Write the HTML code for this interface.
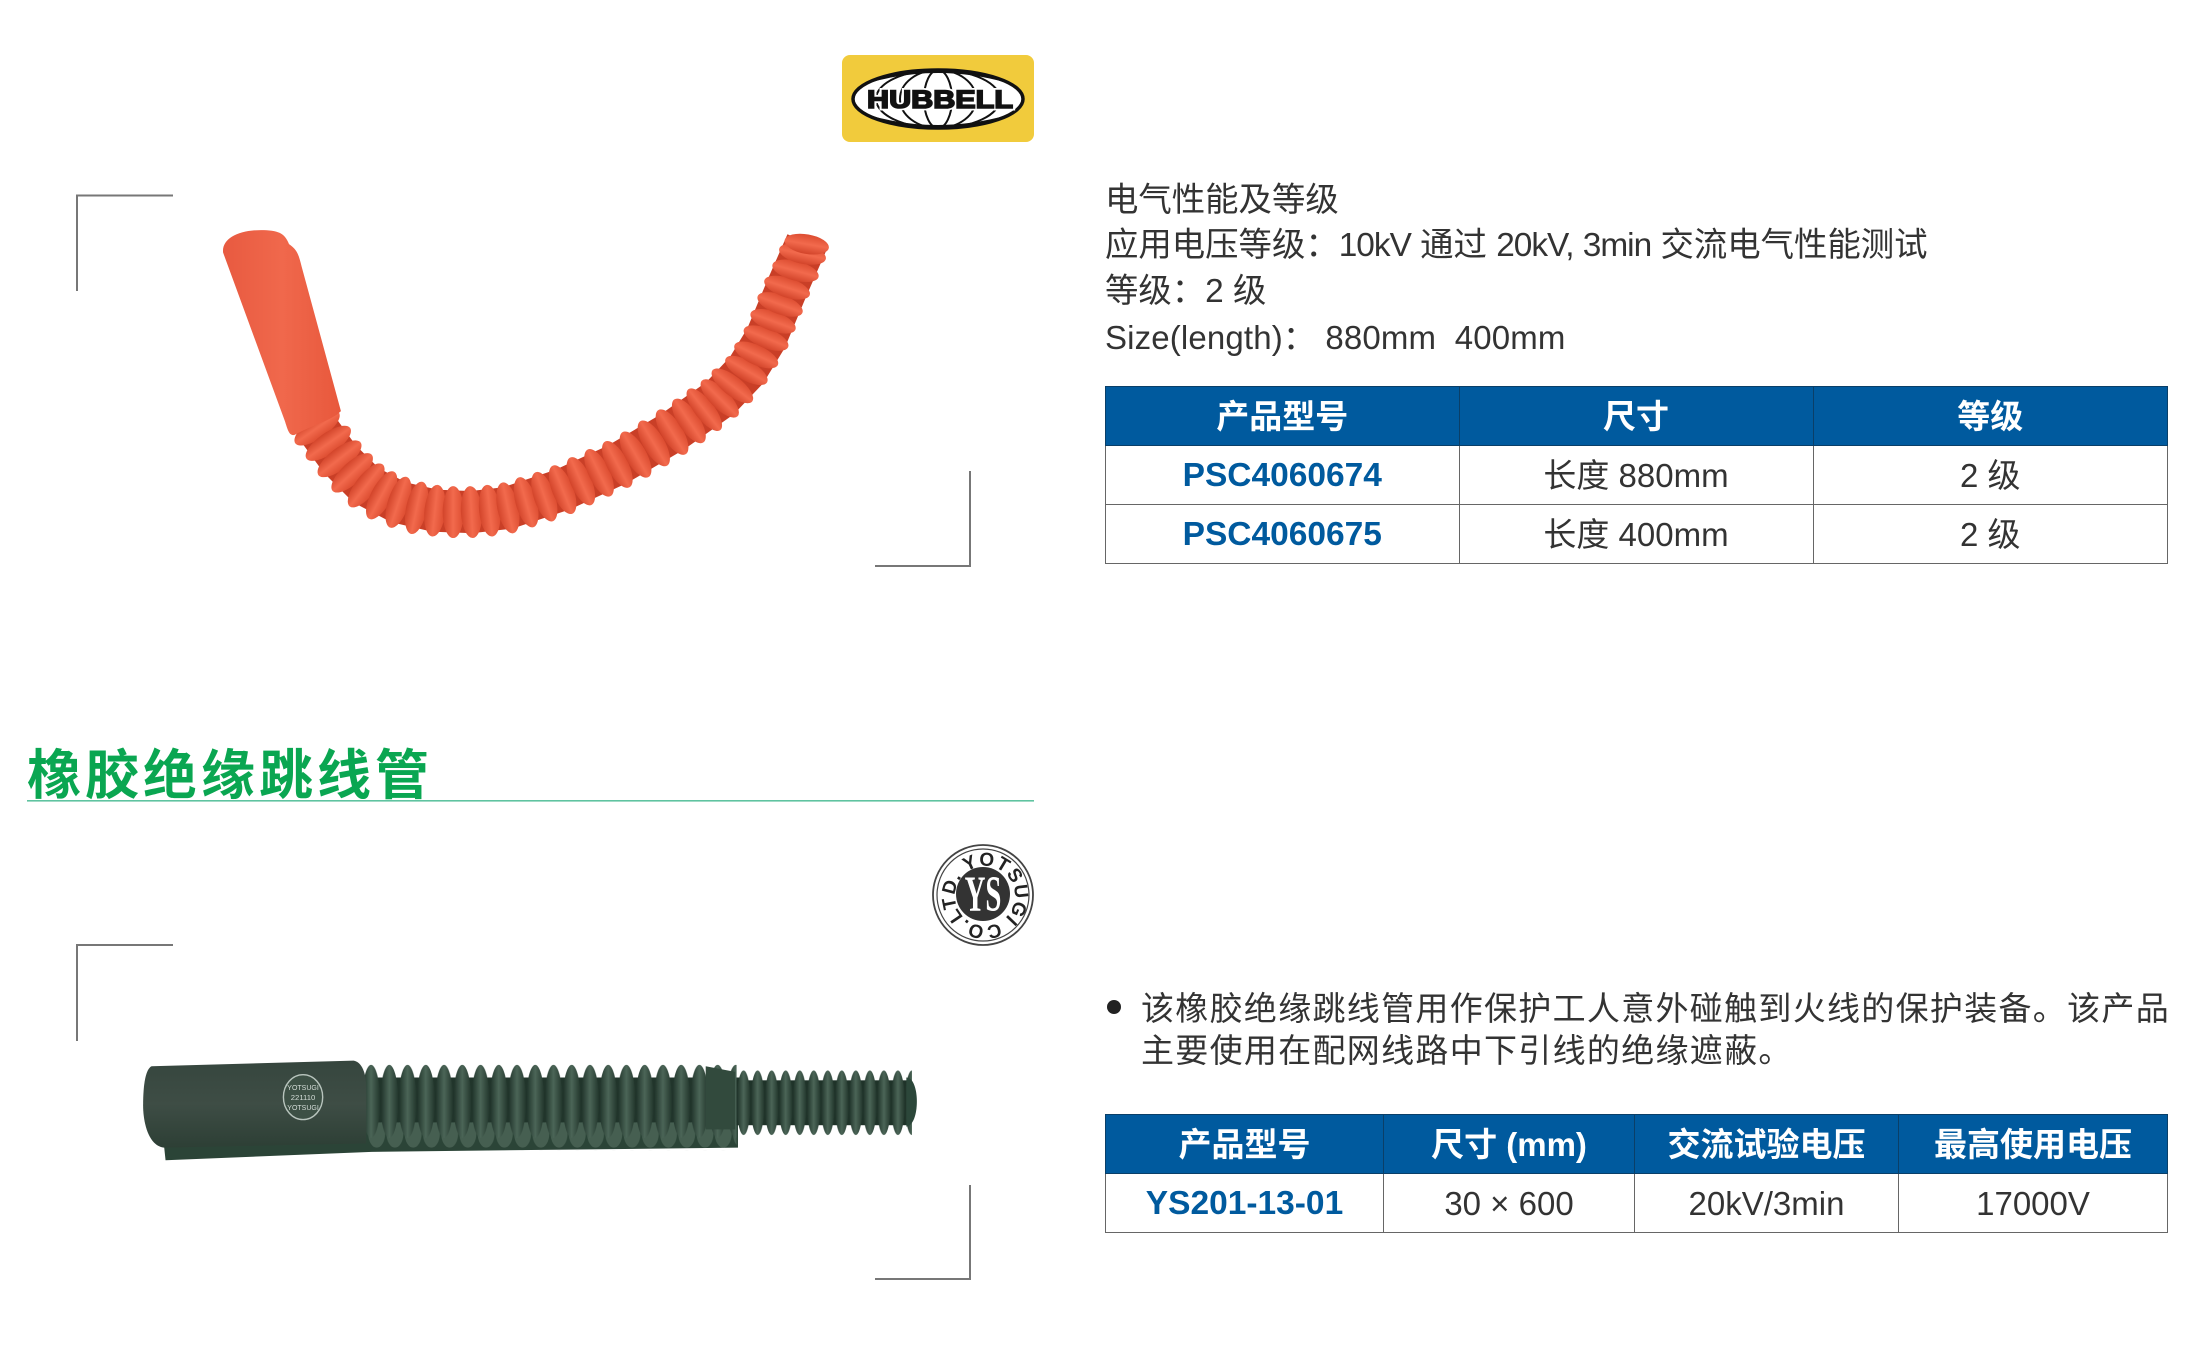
<!DOCTYPE html>
<html><head><meta charset="utf-8"><style>
html,body{margin:0;padding:0;background:#fff}
body{width:2200px;height:1349px;position:relative;overflow:hidden;font-family:"Liberation Sans","Noto Sans CJK SC",sans-serif;color:#333}
.a{position:absolute;white-space:nowrap}
.t{left:1105px;font-size:33.4px;line-height:44px;height:44px}
.t i{font-style:normal;letter-spacing:-1px}
table{position:absolute;left:1105px;width:1062px;border-collapse:collapse;table-layout:fixed;font-size:33px}
td,th{padding:0;text-align:center;border:1.5px solid #666}
td{height:57px;padding-top:1px;line-height:56px}
th{background:#005a9e;color:#fff;font-weight:bold;font-size:33px;border-color:#0a3f68;height:56px;padding-top:2px;line-height:56px}
td.m{color:#005a9e;font-weight:bold;font-size:33.5px}
</style></head><body>
<svg class="a" style="left:0;top:0" width="2200" height="1349" viewBox="0 0 2200 1349">
<defs>
<linearGradient id="og"><stop offset="0" stop-color="#d2442a"/><stop offset=".5" stop-color="#f26a4d"/><stop offset="1" stop-color="#dc4c30"/></linearGradient>
<linearGradient id="cp"><stop offset="0" stop-color="#e85a40"/><stop offset=".5" stop-color="#f0684c"/><stop offset="1" stop-color="#e8583c"/></linearGradient>
<linearGradient id="gg"><stop offset="0" stop-color="#1d3027"/><stop offset=".5" stop-color="#4b6557"/><stop offset="1" stop-color="#22362c"/></linearGradient>
<linearGradient id="cg" x1="0" y1="0" x2="0" y2="1"><stop offset="0" stop-color="#36463e"/><stop offset=".5" stop-color="#3e4d45"/><stop offset="1" stop-color="#2d3f35"/></linearGradient>
<pattern id="r1" patternUnits="userSpaceOnUse" x="258" y="758" width="13" height="54"><ellipse cx="6.5" cy="27" rx="6.4" ry="26" fill="url(#gg)"/></pattern>
<pattern id="r2" patternUnits="userSpaceOnUse" x="525" y="762" width="10" height="48"><ellipse cx="5" cy="24" rx="4.9" ry="23" fill="url(#gg)"/></pattern>
<pattern id="r3" patternUnits="userSpaceOnUse" x="262" y="798" width="13" height="22"><ellipse cx="6.5" cy="10" rx="6" ry="10" fill="#465f51"/></pattern>
<path id="c" d="M963.7 917A30 30 0 1 1 963.8 917.1"/>
</defs>
<g fill="none" stroke="#777" stroke-width="2">
<path d="M173 195.5H77V291"/><path d="M875 566H970V471"/>
<path d="M173 945H77V1041"/><path d="M875 1279H970V1185"/>
</g>
<g transform="scale(1.403)">
<polyline points="226,305 242,327 261,346 284,358 310,364 336,365 362,362 401,349 440,331 479,308 513,284 532,264 546,241 561,205 575,173" fill="none" stroke="#c93f27" stroke-width="30" stroke-linejoin="round"/>
<g fill="url(#og)">
<ellipse cx="226" cy="305" rx="7.5" ry="19" transform="rotate(55 226 305)"/>
<ellipse cx="234" cy="316" rx="7.5" ry="19" transform="rotate(55 234 316)"/>
<ellipse cx="242" cy="327" rx="7.5" ry="19" transform="rotate(52 242 327)"/>
<ellipse cx="251" cy="337" rx="7.5" ry="19" transform="rotate(47 251 337)"/>
<ellipse cx="261" cy="346" rx="7.5" ry="19" transform="rotate(38 261 346)"/>
<ellipse cx="272" cy="353" rx="7.5" ry="19" transform="rotate(28 272 353)"/>
<ellipse cx="284" cy="358" rx="7.5" ry="19" transform="rotate(18 284 358)"/>
<ellipse cx="297" cy="362" rx="7.5" ry="19" transform="rotate(12 297 362)"/>
<ellipse cx="310" cy="364" rx="7.5" ry="18.5" transform="rotate(6 310 364)"/>
<ellipse cx="323" cy="365" rx="7.5" ry="18.5"/>
<ellipse cx="336" cy="365" rx="7.5" ry="18.5" transform="rotate(-3 336 365)"/>
<ellipse cx="349" cy="364" rx="7.5" ry="18.5" transform="rotate(-6 349 364)"/>
<ellipse cx="362" cy="362" rx="7.5" ry="18.5" transform="rotate(-12 362 362)"/>
<ellipse cx="375" cy="358" rx="7.5" ry="18.5" transform="rotate(-16 375 358)"/>
<ellipse cx="388" cy="354" rx="7.5" ry="18.5" transform="rotate(-19 388 354)"/>
<ellipse cx="401" cy="349" rx="7.5" ry="18.5" transform="rotate(-22 401 349)"/>
<ellipse cx="414" cy="343" rx="7.5" ry="18.5" transform="rotate(-24 414 343)"/>
<ellipse cx="427" cy="337" rx="7.5" ry="18.5" transform="rotate(-26 427 337)"/>
<ellipse cx="440" cy="331" rx="7.5" ry="18.5" transform="rotate(-28 440 331)"/>
<ellipse cx="453" cy="324" rx="7.5" ry="18.5" transform="rotate(-30 453 324)"/>
<ellipse cx="466" cy="316" rx="7.5" ry="18.5" transform="rotate(-31 466 316)"/>
<ellipse cx="479" cy="308" rx="7.5" ry="18.5" transform="rotate(-32 479 308)"/>
<ellipse cx="491" cy="300" rx="7.5" ry="18.5" transform="rotate(-34 491 300)"/>
<ellipse cx="502" cy="292" rx="7" ry="18.5" transform="rotate(-38 502 292)"/>
<ellipse cx="513" cy="284" rx="7" ry="18" transform="rotate(-45 513 284)"/>
<ellipse cx="522" cy="275" rx="7" ry="18" transform="rotate(-52 522 275)"/>
<ellipse cx="532" cy="264" rx="7" ry="17" transform="rotate(-60 532 264)"/>
<ellipse cx="539" cy="253" rx="7" ry="17" transform="rotate(-65 539 253)"/>
<ellipse cx="546" cy="241" rx="7" ry="17" transform="rotate(-68 546 241)"/>
<ellipse cx="551" cy="229" rx="7" ry="17" transform="rotate(-70 551 229)"/>
<ellipse cx="556" cy="217" rx="7" ry="17" transform="rotate(-70 556 217)"/>
<ellipse cx="561" cy="205" rx="7" ry="17" transform="rotate(-72 561 205)"/>
<ellipse cx="567" cy="193" rx="7" ry="17" transform="rotate(-75 567 193)"/>
<ellipse cx="572" cy="181" rx="7" ry="17" transform="rotate(-78 572 181)"/>
<ellipse cx="575" cy="174" rx="7" ry="16" transform="rotate(-80 575 174)"/>
</g>
<path d="M159 180C158 170 170 164 186 164C198 164 203 166 206 174C212 178 213 182 215 190L243 293C236 300 222 303 210 310C206 311 205 306 203 300Z" fill="url(#cp)"/>
<!-- green tube -->
<path d="M116 808L118 827L265 821L526 818V800H116Z" fill="#2b4437"/>
<rect x="262" y="798" width="263" height="22" fill="url(#r3)"/>
<rect x="258" y="768" width="270" height="32" fill="#21352b"/>
<rect x="258" y="758" width="267" height="54" fill="url(#r1)"/>
<rect x="525" y="770" width="122" height="32" fill="#1f3329"/>
<rect x="525" y="762" width="125" height="48" fill="url(#r2)"/>
<path d="M646 768C656 768 656 802 646 803Z" fill="#2c473a"/>
<path d="M503 760L524 764V805H503Z" fill="#324a3d"/>
<path d="M108 760L252 756C258 757 261 765 261 775V815L118 818C106 818 102 800 102 788C102 772 104 762 108 760Z" fill="url(#cg)"/>
<ellipse cx="216" cy="782" rx="14" ry="16" fill="#3d5045" stroke="#b8c4bd" stroke-width="1"/>
<text x="216" y="777" font-size="5" fill="#d5ddd8" text-anchor="middle">YOTSUGI</text>
<text x="216" y="784" font-size="5.5" fill="#d5ddd8" text-anchor="middle">221110</text>
<text x="216" y="791" font-size="5" fill="#d5ddd8" text-anchor="middle">YOTSUGI</text>
</g>
<!-- hubbell logo -->
<rect x="842" y="55" width="192" height="87" rx="8" fill="#f1cb3c"/>
<ellipse cx="938" cy="99" rx="85" ry="29" fill="#fff" stroke="#111" stroke-width="3.5"/>
<g fill="none" stroke="#111" stroke-width="2">
<ellipse cx="938" cy="99" rx="14" ry="29"/><ellipse cx="938" cy="99" rx="38" ry="29"/><ellipse cx="938" cy="99" rx="62" ry="29"/><path d="M868 82Q938 62 1008 82M868 116Q938 136 1008 116"/>
</g>
<text x="940" y="108" text-anchor="middle" font-family="Liberation Sans" font-weight="bold" font-size="25" textLength="146" lengthAdjust="spacingAndGlyphs" fill="#111" stroke="#fff" stroke-width="5" paint-order="stroke">HUBBELL</text>
<text x="940" y="108" text-anchor="middle" font-family="Liberation Sans" font-weight="bold" font-size="25" textLength="146" lengthAdjust="spacingAndGlyphs" fill="#111" stroke="#111" stroke-width="1.6">HUBBELL</text>
<!-- yotsugi logo -->
<circle cx="983" cy="895" r="50" fill="#fff" stroke="#444" stroke-width="1.8"/>
<circle cx="983" cy="895" r="46" fill="none" stroke="#444" stroke-width="1.2"/>
<circle cx="983" cy="894" r="27" fill="#333"/>
<text font-family="Liberation Sans" font-weight="bold" font-size="19" letter-spacing="1" fill="#222"><textPath href="#c">LTD. YOTSUGI CO.</textPath></text>
<text transform="translate(983 911) scale(.8 1.4)" text-anchor="middle" font-family="Liberation Serif" font-weight="bold" font-size="36" fill="#fff">YS</text>
<rect x="27" y="800" width="1007" height="1.6" fill="#5fc3a0"/>
</svg>

<div class="a" style="left:27px;top:733px;font-size:54px;line-height:76px;font-weight:bold;color:#0aa651;letter-spacing:4px;font-family:'Noto Sans CJK SC','Liberation Sans',sans-serif">橡胶绝缘跳线管</div>

<div class="a t" style="top:179px">电气性能及等级</div>
<div class="a t" style="top:224px">应用电压等级：<i>10kV</i> 通过 <i>20kV,</i> <i>3min</i> 交流电气性能测试</div>
<div class="a t" style="top:270px">等级：2 级</div>
<div class="a t" style="top:316px;font-size:33px;letter-spacing:.15px">Size(length)：&nbsp;880mm&nbsp;&nbsp;400mm</div>

<table style="top:386px">
<colgroup><col style="width:353.5px"><col style="width:354px"><col style="width:354.5px"></colgroup>
<tr><th>产品型号</th><th>尺寸</th><th>等级</th></tr>
<tr><td class="m">PSC4060674</td><td>长度 880mm</td><td>2 级</td></tr>
<tr><td class="m">PSC4060675</td><td>长度 400mm</td><td>2 级</td></tr>
</table>

<div class="a" style="left:1107px;top:1000px;width:14px;height:14px;border-radius:50%;background:#222"></div>
<div class="a" style="left:1141px;top:987px;font-size:33px;line-height:44px;letter-spacing:1.3px">该橡胶绝缘跳线管用作保护工人意外碰触到火线的保护装备。该产品</div>
<div class="a" style="left:1141px;top:1029px;font-size:33px;line-height:44px;letter-spacing:1.3px">主要使用在配网线路中下引线的绝缘遮蔽。</div>

<table style="top:1114px">
<colgroup><col style="width:278px"><col style="width:251px"><col style="width:264px"><col style="width:269px"></colgroup>
<tr><th>产品型号</th><th>尺寸 (mm)</th><th>交流试验电压</th><th>最高使用电压</th></tr>
<tr><td class="m">YS201-13-01</td><td>30 × 600</td><td>20kV/3min</td><td>17000V</td></tr>
</table>
</body></html>
